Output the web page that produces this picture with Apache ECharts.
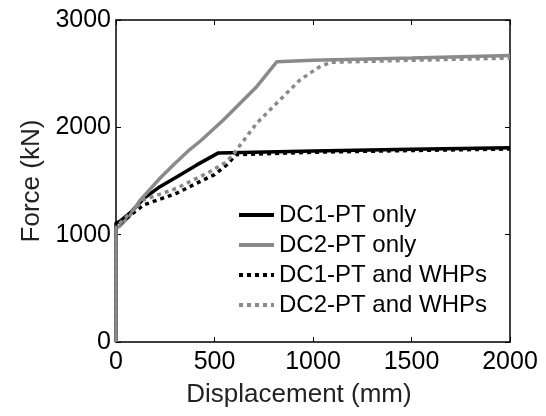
<!DOCTYPE html>
<html>
<head>
<meta charset="utf-8">
<script src="https://cdn.jsdelivr.net/npm/echarts@6/dist/echarts.min.js"></script>
<style>
  html, body { margin: 0; padding: 0; background: #fff; }
  #chart { width: 546px; height: 416px; }
</style>
</head>
<body>
<div id="chart"></div>
<script>
// 曲线数据 [位移 mm, 力 kN]
var seriesNames = ['DC1-PT only', 'DC2-PT only', 'DC1-PT and WHPs', 'DC2-PT and WHPs'];
var dc1Only = [[0,0],[0,1110],[20,1125],[70,1200],[140,1335],[223,1447],[310,1540],[410,1650],[520,1762],[1000,1780],[1500,1795],[2000,1810]];
var dc2Only = [[0,0],[0,1060],[20,1080],[70,1175],[122,1320],[223,1526],[300,1665],[376,1795],[430,1875],[545,2069],[714,2379],[816,2610],[1000,2625],[1500,2645],[2000,2670]];
var dc1Whp = [[0,0],[0,1070],[20,1106],[140,1277],[308,1386],[443,1510],[500,1560],[562,1650],[610,1745],[1000,1768],[1500,1784],[2000,1798]];
var dc2Whp = [[0,0],[0,1070],[140,1323],[308,1432],[477,1587],[562,1680],[600,1760],[714,2038],[832,2255],[934,2442],[1030,2560],[1090,2606],[1500,2625],[2000,2645]];
var xTicks = [0, 500, 1000, 1500, 2000];
var yTicks = [0, 1000, 2000, 3000];

var chart = echarts.init(document.getElementById('chart'));
var font = 'Liberation Sans';

function line(name, data, color, dotted) {
  return {
    name: name,
    type: 'line',
    data: data,
    symbol: 'none',
    showSymbol: false,
    animation: false,
    lineStyle: {
      color: color,
      width: 3.5,
      type: dotted ? [4, 4] : 'solid',
      cap: 'butt'
    },
    itemStyle: { color: color },
    z: 2
  };
}

function axisBase(pos, show) {
  return {
    type: 'value',
    position: pos,
    min: 0,
    axisLine: { show: true, onZero: false, lineStyle: { color: '#000', width: 1.5 } },
    axisTick: { show: true, inside: true, length: 5, lineStyle: { color: '#000', width: 1 } },
    splitLine: { show: false },
    axisLabel: { show: show, color: '#000', fontSize: 25, fontFamily: font, formatter: function (v) { return String(v); } }
  };
}

var xMain = axisBase('bottom', true);
xMain.max = xTicks[xTicks.length - 1];
xMain.interval = 500;
xMain.name = 'Displacement (mm)';
xMain.nameLocation = 'middle';
xMain.nameGap = 40;
xMain.nameTextStyle = { color: '#222', fontSize: 26, fontFamily: font, padding: [0, 28, 0, 0] };
xMain.axisLabel.margin = 8;

var xTop = axisBase('top', false);
xTop.max = 2000;
xTop.interval = 500;

var yMain = axisBase('left', true);
yMain.max = yTicks[yTicks.length - 1];
yMain.interval = 1000;
yMain.name = 'Force (kN)';
yMain.nameLocation = 'middle';
yMain.nameGap = 70;
yMain.nameTextStyle = { color: '#222', fontSize: 26, fontFamily: font };
yMain.axisLabel.margin = 5;

var yRight = axisBase('right', false);
yRight.max = 3000;
yRight.interval = 1000;

chart.setOption({
  backgroundColor: '#fff',
  animation: false,
  grid: { left: 116, right: 36, top: 20, bottom: 74 },
  legend: {
    orient: 'vertical',
    left: 232,
    top: 198,
    itemWidth: 35,
    itemHeight: 4,
    itemGap: 6,
    data: seriesNames,
    itemStyle: { opacity: 0 },
    lineStyle: { width: 4 },
    textStyle: { color: '#000', fontSize: 24, fontFamily: font, lineHeight: 24 }
  },
  xAxis: [xMain, xTop],
  yAxis: [yMain, yRight],
  series: [
    line(seriesNames[0], dc1Only, '#000', false),
    line(seriesNames[1], dc2Only, '#8a8a8a', false),
    line(seriesNames[2], dc1Whp, '#000', true),
    line(seriesNames[3], dc2Whp, '#8a8a8a', true)
  ]
});
</script>
</body>
</html>
